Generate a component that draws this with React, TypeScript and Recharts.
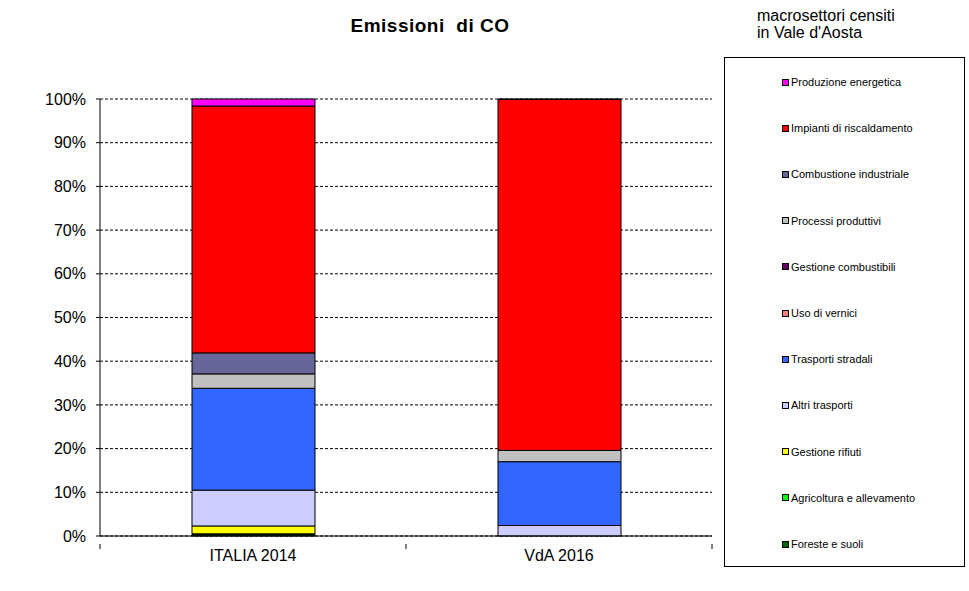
import React from "react"
import {
  BarChart,
  Bar,
  XAxis,
  YAxis,
  CartesianGrid,
  Legend,
} from "recharts"

// stack order, bottom to top
const SECTORS = [
  "Foreste e suoli",
  "Agricoltura e allevamento",
  "Gestione rifiuti",
  "Altri trasporti",
  "Trasporti stradali",
  "Uso di vernici",
  "Gestione combustibili",
  "Processi produttivi",
  "Combustione industriale",
  "Impianti di riscaldamento",
  "Produzione energetica",
]

const SECTOR_COLORS = [
  "#006600",
  "#00ff00",
  "#ffff00",
  "#ccccff",
  "#3366ff",
  "#ff8080",
  "#660066",
  "#c0c0c0",
  "#666699",
  "#ff0000",
  "#ff00ff",
]

const CATEGORIES = ["ITALIA 2014", "VdA 2016"]

// percent shares, same order as SECTORS
const ITALIA_2014 = [0.3, 0.2, 1.8, 8.2, 23.3, 0, 0, 3.3, 4.8, 56.5, 1.6]
const VDA_2016 = [0, 0, 0, 2.4, 14.6, 0, 0, 2.6, 0, 80.3, 0.1]

const Y_TICKS = [0, 0.1, 0.2, 0.3, 0.4, 0.5, 0.6, 0.7, 0.8, 0.9, 1]

const FONT = '"Liberation Sans", Arial, sans-serif'

const series = [ITALIA_2014, VDA_2016]
const data = CATEGORIES.map((name, i) => {
  const row: Record<string, any> = { name }
  SECTORS.forEach((s, j) => {
    row[s] = series[i][j]
  })
  return row
})

function CategoryTick(props: any) {
  const { x, y, payload, index } = props
  const half = payload?.offset || 153
  return (
    <g>
      <line x1={x - half} x2={x - half} y1={y} y2={y + 5} stroke="#000" />
      {index === CATEGORIES.length - 1 && (
        <line x1={x + half} x2={x + half} y1={y} y2={y + 5} stroke="#000" />
      )}
      <text
        x={x}
        y={y + 17}
        textAnchor="middle"
        fontSize={16}
        fontFamily={FONT}
        fill="#000"
      >
        {payload.value}
      </text>
    </g>
  )
}

function LegendBox() {
  const items = SECTORS.map((s, i) => ({ name: s, color: SECTOR_COLORS[i] })).reverse()
  return (
    <div style={{ position: "relative", width: "100%", height: "100%" }}>
      {items.map((it, i) => (
        <div
          key={it.name}
          style={{
            position: "absolute",
            left: 57,
            top: 17 + i * 46.2,
            display: "flex",
            alignItems: "center",
            fontSize: 11,
            fontFamily: FONT,
            color: "#000",
            whiteSpace: "nowrap",
            lineHeight: "14px",
          }}
        >
          <span
            style={{
              display: "inline-block",
              width: 5,
              height: 5,
              background: it.color,
              border: "1px solid #000",
              marginRight: 2,
            }}
          />
          {it.name}
        </div>
      ))}
    </div>
  )
}

export default function App() {
  return (
    <div
      style={{
        position: "absolute",
        left: 0,
        top: 0,
        width: 969,
        height: 591,
        background: "#fff",
        fontFamily: FONT,
      }}
    >
      <div
        style={{
          position: "absolute",
          left: 280,
          width: 300,
          top: 15,
          textAlign: "center",
          fontSize: 19,
          fontWeight: "bold",
          letterSpacing: 0.5,
          whiteSpace: "pre",
        }}
      >
        {"Emissioni  di CO"}
      </div>
      <div
        style={{
          position: "absolute",
          left: 757,
          top: 7,
          fontSize: 16,
          lineHeight: "17px",
        }}
      >
        macrosettori censiti
        <br />
        in Vale d'Aosta
      </div>

      <BarChart
        width={969}
        height={591}
        data={data}
        stackOffset="expand"
        barSize={123}
        margin={{ top: 99, right: 257, bottom: 25, left: 40 }}
      >
        <CartesianGrid
          vertical={false}
          stroke="#000"
          strokeDasharray="3 2"
        />
        <XAxis
          dataKey="name"
          tickLine={false}
          axisLine={{ stroke: "#000" }}
          tick={<CategoryTick />}
          height={30}
        />
        <YAxis
          width={60}
          domain={[0, 1]}
          ticks={Y_TICKS}
          tickFormatter={(v: number) => `${Math.round(v * 100)}%`}
          tick={{ fontSize: 16, fill: "#000", fontFamily: FONT }}
          tickLine={{ stroke: "#000" }}
          tickSize={4}
          tickMargin={10}
          axisLine={{ stroke: "#000" }}
          interval={0}
        />
        <Legend
          layout="vertical"
          align="center"
          verticalAlign="middle"
          content={<LegendBox />}
          wrapperStyle={{
            left: 724,
            top: 57,
            width: 241,
            height: 510,
            border: "1px solid #000",
            boxSizing: "border-box",
          }}
        />
        {SECTORS.map((s, i) => (
          <Bar
            key={s}
            dataKey={s}
            stackId="a"
            fill={SECTOR_COLORS[i]}
            stroke="#000"
            strokeWidth={1}
            isAnimationActive={false}
          />
        ))}
      </BarChart>
    </div>
  )
}
